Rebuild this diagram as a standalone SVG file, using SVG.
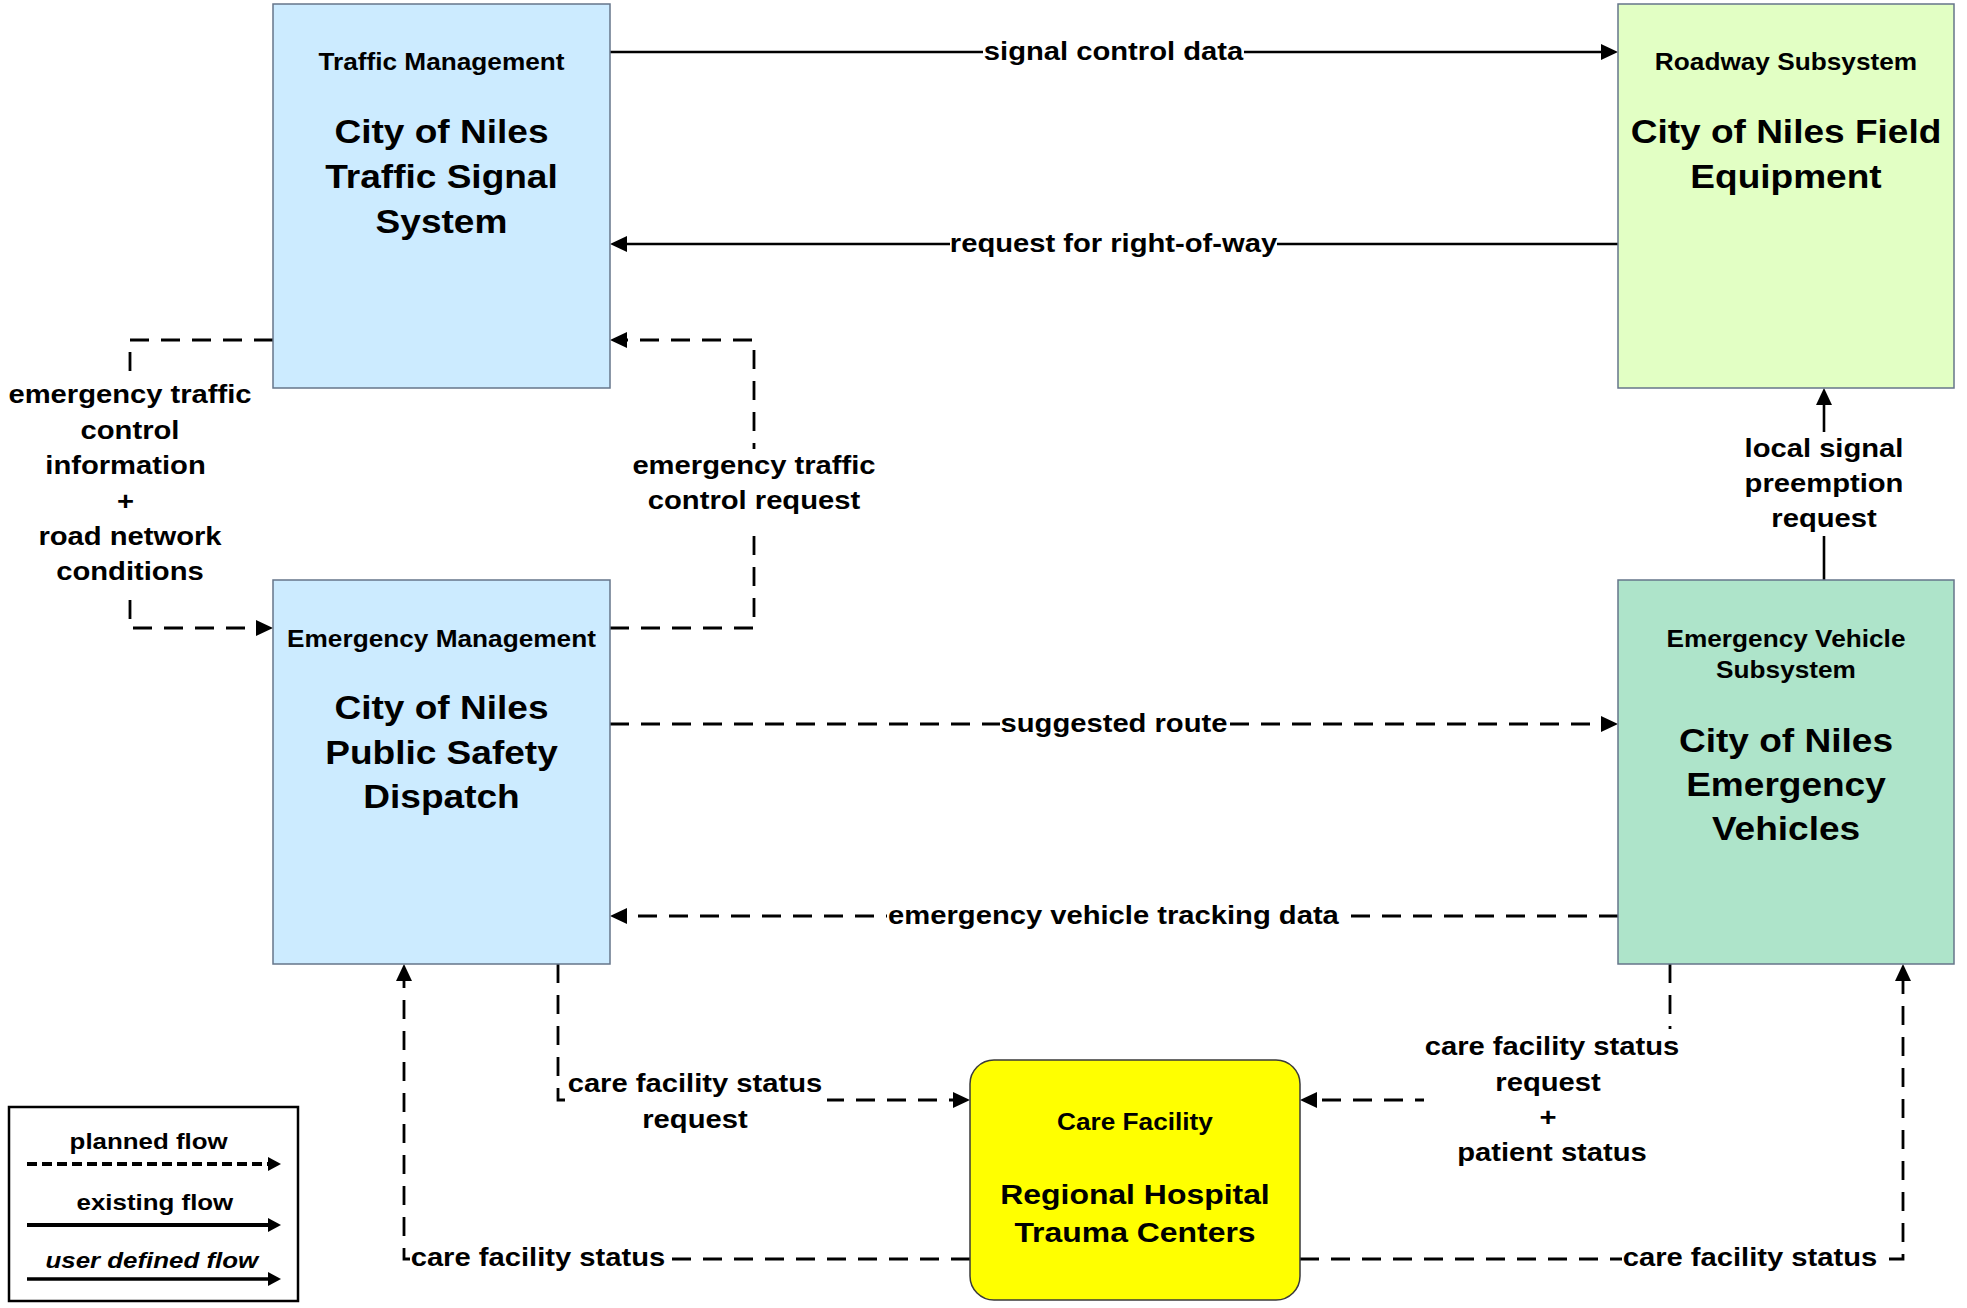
<svg xmlns="http://www.w3.org/2000/svg" width="1967" height="1308" viewBox="0 0 1967 1308">
<defs>
<style>
.box{stroke:#66768a;stroke-width:1.5}
.blue{fill:#CCEBFF}
.green{fill:#E2FFC4}
.mint{fill:#AEE4CA}
.care{fill:#FFFF00;stroke:#3a3a3a;stroke-width:1.5}
.t{font-family:"Liberation Sans",Arial,Helvetica,sans-serif;font-weight:bold;fill:#000;text-anchor:middle}
.s{font-size:23px}
.b{font-size:32.5px}
.h{font-size:28px}
.l{font-size:25.6px}
.g{font-size:22.7px}
.solid{fill:none;stroke:#000;stroke-width:2.6;marker-end:url(#arr)}
.dash{fill:none;stroke:#000;stroke-width:2.8;stroke-dasharray:19 12;marker-end:url(#arr)}
.bg{fill:#fff}
</style>
<marker id="arr" viewBox="0 0 17 16" markerWidth="17" markerHeight="16" markerUnits="userSpaceOnUse" refX="7" refY="8" orient="auto">
<path d="M0,0 L17,8 L0,16 z" fill="#000"/>
</marker>
<marker id="arrs" viewBox="0 0 13 14" markerWidth="13" markerHeight="14" markerUnits="userSpaceOnUse" refX="3" refY="7" orient="auto">
<path d="M0,0 L13,7 L0,14 z" fill="#000"/>
</marker>
</defs>
<rect width="1967" height="1308" fill="#fff"/>

<g id="connectors">
<path class="solid" d="M610,52 H1608"/>
<path class="solid" d="M1618,244 H620"/>
<path class="dash" d="M273,340 H130 V628 H263"/>
<path class="dash" d="M610,628 H754 V340 H620"/>
<path class="dash" d="M610,724 H1608"/>
<path class="dash" d="M1618,916 H620"/>
<path class="solid" d="M1824,580 V398"/>
<path class="dash" d="M558,964 V1100 H960"/>
<path class="dash" d="M1670,964 V1100 H1310"/>
<path class="dash" d="M970,1259 H404 V974"/>
<path class="dash" d="M1300,1259 H1903 V974"/>

<rect class="bg" x="983" y="38" width="261" height="28"/>
<rect class="bg" x="950" y="230" width="327" height="28"/>
<rect class="bg" x="4" y="377" width="252" height="212"/>
<rect class="bg" x="628" y="449" width="252" height="79"/>
<rect class="bg" x="1000" y="710" width="228" height="28"/>
<rect class="bg" x="887" y="902" width="453" height="28"/>
<rect class="bg" x="1722" y="432" width="204" height="104"/>
<rect class="bg" x="565" y="1068" width="262" height="70"/>
<rect class="bg" x="1424" y="1029" width="258" height="142"/>
<rect class="bg" x="410" y="1245" width="256" height="28"/>
<rect class="bg" x="1622" y="1245" width="256" height="28"/>

<g transform="scale(1.14 1)">
<text class="t l" x="976.75" y="60">signal control data</text>
<text class="t l" x="976.75" y="252">request for right-of-way</text>
<text class="t l" x="114.04" y="403">emergency traffic</text>
<text class="t l" x="114.04" y="439">control</text>
<text class="t l" x="110.09" y="474">information</text>
<text class="t l" x="110.09" y="510">+</text>
<text class="t l" x="114.04" y="545">road network</text>
<text class="t l" x="114.04" y="580">conditions</text>
<text class="t l" x="661.4" y="474">emergency traffic</text>
<text class="t l" x="661.4" y="509">control request</text>
<text class="t l" x="977.19" y="732">suggested route</text>
<text class="t l" x="976.75" y="924">emergency vehicle tracking data</text>
<text class="t l" x="1600" y="457">local signal</text>
<text class="t l" x="1600" y="492">preemption</text>
<text class="t l" x="1600" y="527">request</text>
<text class="t l" x="609.6" y="1092">care facility status</text>
<text class="t l" x="609.6" y="1128">request</text>
<text class="t l" x="1361.4" y="1055">care facility status</text>
<text class="t l" x="1357.9" y="1091">request</text>
<text class="t l" x="1357.9" y="1126">+</text>
<text class="t l" x="1361.4" y="1161">patient status</text>
<text class="t l" x="471.9" y="1266">care facility status</text>
<text class="t l" x="1535.1" y="1266">care facility status</text>
</g>
</g>

<g id="traffic-management">
<rect class="box blue" x="273" y="4" width="337" height="384"/>
<g transform="scale(1.14 1)">
<text class="t s" x="387.28" y="70">Traffic Management</text>
<text class="t b" x="387.28" y="143">City of Niles</text>
<text class="t b" x="387.28" y="188">Traffic Signal</text>
<text class="t b" x="387.28" y="233">System</text>
</g>
</g>

<g id="roadway-subsystem">
<rect class="box green" x="1618" y="4" width="336" height="384"/>
<g transform="scale(1.14 1)">
<text class="t s" x="1566.67" y="70">Roadway Subsystem</text>
<text class="t b" x="1566.67" y="143">City of Niles Field</text>
<text class="t b" x="1566.67" y="188">Equipment</text>
</g>
</g>

<g id="emergency-management">
<rect class="box blue" x="273" y="580" width="337" height="384"/>
<g transform="scale(1.14 1)">
<text class="t s" x="387.28" y="647">Emergency Management</text>
<text class="t b" x="387.28" y="719">City of Niles</text>
<text class="t b" x="387.28" y="764">Public Safety</text>
<text class="t b" x="387.28" y="808">Dispatch</text>
</g>
</g>

<g id="emergency-vehicle-subsystem">
<rect class="box mint" x="1618" y="580" width="336" height="384"/>
<g transform="scale(1.14 1)">
<text class="t s" x="1566.67" y="647">Emergency Vehicle</text>
<text class="t s" x="1566.67" y="678">Subsystem</text>
<text class="t b" x="1566.67" y="752">City of Niles</text>
<text class="t b" x="1566.67" y="796">Emergency</text>
<text class="t b" x="1566.67" y="840">Vehicles</text>
</g>
</g>

<g id="care-facility">
<rect class="care" x="970" y="1060" width="330" height="240" rx="24" ry="24"/>
<g transform="scale(1.14 1)">
<text class="t s" x="995.61" y="1130">Care Facility</text>
<text class="t h" x="995.61" y="1204">Regional Hospital</text>
<text class="t h" x="995.61" y="1242">Trauma Centers</text>
</g>
</g>

<g id="legend">
<rect x="9" y="1107" width="289" height="194" fill="#fff" stroke="#000" stroke-width="2.5"/>
<path d="M27,1164 H271" fill="none" stroke="#000" stroke-width="4" stroke-dasharray="10 5" marker-end="url(#arrs)"/>
<path d="M27,1225 H271" fill="none" stroke="#000" stroke-width="4" marker-end="url(#arrs)"/>
<path d="M27,1279 H271" fill="none" stroke="#000" stroke-width="3.3" marker-end="url(#arrs)"/>
<g transform="scale(1.14 1)">
<text class="t g" x="130.4" y="1149">planned flow</text>
<text class="t g" x="135.9" y="1210">existing flow</text>
<text class="t g" x="133.2" y="1268" font-style="italic">user defined flow</text>
</g>
</g>
</svg>
